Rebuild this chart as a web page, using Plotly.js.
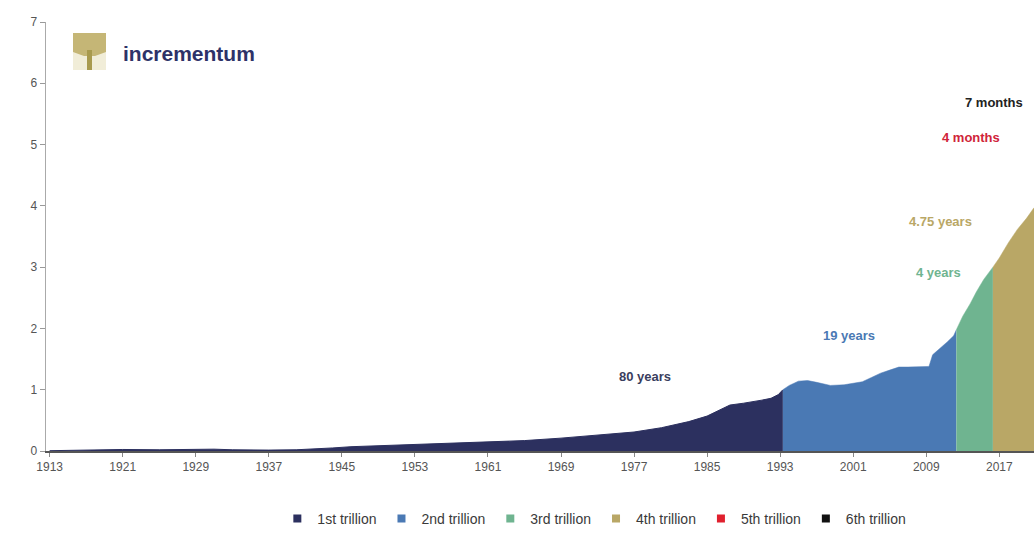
<!DOCTYPE html>
<html>
<head>
<meta charset="utf-8">
<script src="https://cdn.plot.ly/plotly-3.0.1.min.js"></script>
<style>
html,body{margin:0;padding:0;background:#fff;}
#chart{width:1034px;height:541px;}
</style>
</head>
<body>
<div id="chart"></div>
<script>
// ---- data (trillions USD) ----
const yearsT1 = [1913,1915,1917,1919,1921,1925,1929,1931,1933,1935,1937,1940,1942,1944,1946,1950,1953,1957,1961,1965,1969,1973,1977,1980,1983,1985,1986.5,1987.5,1989,1990,1991,1992,1992.8,1993.3];
const valsT1  = [0.005,0.01,0.02,0.02,0.025,0.02,0.025,0.03,0.02,0.015,0.015,0.02,0.03,0.05,0.07,0.09,0.10,0.12,0.14,0.17,0.21,0.26,0.31,0.38,0.48,0.57,0.68,0.75,0.78,0.80,0.83,0.86,0.92,1.0];
const yearsT2 = [1993.3,1994,1995,1996,1997,1998.5,2000,2001,2002,2003,2004,2005,2006,2007,2008,2009.3,2009.7,2010.5,2011.3,2012,2012.3];
const valsT2  = [1.0,1.07,1.14,1.15,1.12,1.07,1.08,1.10,1.13,1.20,1.27,1.32,1.37,1.37,1.37,1.38,1.57,1.67,1.78,1.88,1.98];
const yearsT3 = [2012.3,2013,2013.8,2014.5,2015.3,2016.3];
const valsT3  = [1.98,2.2,2.4,2.6,2.8,3.0];
const yearsT4 = [2016.3,2017,2018,2019,2020,2020.8];
const valsT4  = [3.0,3.15,3.4,3.62,3.8,3.97];

const seriesNames = ["1st trillion","2nd trillion","3rd trillion","4th trillion","5th trillion","6th trillion"];
const seriesColors = ["#2c305f","#4a79b4","#6fb490","#b9a766","#e0202e","#111111"];
const xTicks = [1913,1921,1929,1937,1945,1953,1961,1969,1977,1985,1993,2001,2009,2017];
const yTicks = [0,1,2,3,4,5,6,7];

const labelTexts = ["80 years","19 years","4 years","4.75 years","4 months","7 months"];
const labelX = [1978.2,2000.5,2010.3,2010.6,2013.9,2016.4];
const labelY = [1.21,1.88,2.92,3.74,5.12,5.69];
const labelColors = ["#3a3e5e","#4a79b4","#6fb490","#b9a766","#d0243a","#222222"];

const areaX = [yearsT1,yearsT2,yearsT3,yearsT4];
const areaY = [valsT1,valsT2,valsT3,valsT4];

const traces = [];
areaX.forEach((xs,i)=>{
  traces.push({
    x: xs, y: areaY[i], type:'scatter', mode:'lines',
    fill:'tozeroy', fillcolor: seriesColors[i],
    line:{color: i===0 ? '#2c305f' : seriesColors[i], width: i===0?1:0.5},
    showlegend:false, hoverinfo:'skip'
  });
});
seriesNames.forEach((n,i)=>{
  traces.push({
    x:[null], y:[null], type:'scatter', mode:'markers', name:n,
    marker:{symbol:'square', size:8, color:seriesColors[i]},
    showlegend:true
  });
});

// plot area in px
const L=46, T=22, W=988, H=429;
const px = x => (x-L)/W;
const py = y => (T+H-y)/H;

const annotations = labelTexts.map((t,i)=>({
  x: labelX[i], y: labelY[i], xref:'x', yref:'y', text:t, showarrow:false,
  font:{family:'Liberation Sans, Arial, sans-serif', size:13, color:labelColors[i], weight:'bold'}
}));
annotations.push({
  x: px(121), y: py(53), xref:'paper', yref:'paper', xanchor:'left', yanchor:'middle',
  text:'incrementum', showarrow:false,
  font:{family:'Liberation Sans, Arial, sans-serif', size:21, color:'#2e3268', weight:'bold'}
});

const shapes = [
  {type:'rect', xref:'paper', yref:'paper', x0:px(73), x1:px(106), y0:py(70), y1:py(33), fillcolor:'#f1edd8', line:{width:0}, layer:'above'},
  {type:'path', xref:'paper', yref:'paper',
   path:`M ${px(73)} ${py(33)} L ${px(106)} ${py(33)} L ${px(106)} ${py(52)} L ${px(95)} ${py(56)} L ${px(84)} ${py(56)} L ${px(73)} ${py(52)} Z`,
   fillcolor:'#c5b676', line:{width:0}, layer:'above'},
  {type:'rect', xref:'paper', yref:'paper', x0:px(87), x1:px(92), y0:py(70), y1:py(50), fillcolor:'#a89a4e', line:{width:0}, layer:'above'}
];

const layout = {
  width:1034, height:541,
  margin:{l:L, r:0, t:T, b:541-T-H, pad:0},
  paper_bgcolor:'#fff', plot_bgcolor:'#fff',
  font:{family:'Liberation Sans, Arial, sans-serif', size:12, color:'#555'},
  xaxis:{
    range:[1912.6,2020.8], tickvals:xTicks, ticktext:xTicks.map(String),
    showgrid:false, zeroline:false, showline:true, linecolor:'#555', linewidth:1.5,
    ticks:'outside', ticklen:4, tickcolor:'#888', tickfont:{size:12, color:'#555'}
  },
  yaxis:{
    range:[0,7], tickvals:yTicks, showgrid:false, zeroline:false,
    showline:true, linecolor:'#aaa', linewidth:1.5,
    ticks:'outside', ticklen:5, tickcolor:'#999', tickfont:{size:12, color:'#555'}
  },
  showlegend:true,
  legend:{orientation:'h', x:0.555, xanchor:'center', y:-0.158, yanchor:'middle',
    font:{size:14, color:'#3a3a3a'}, itemwidth:30, tracegroupgap:0},
  annotations: annotations,
  shapes: shapes
};

Plotly.newPlot('chart', traces, layout, {displayModeBar:false, staticPlot:true});
</script>
</body>
</html>
